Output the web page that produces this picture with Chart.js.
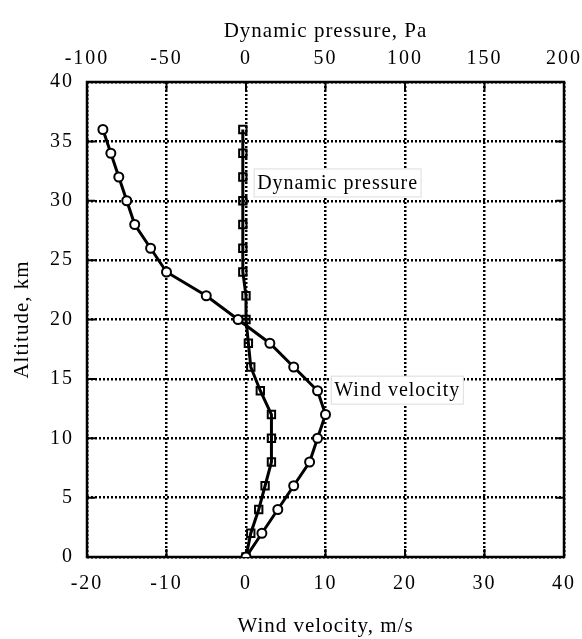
<!DOCTYPE html>
<html>
<head>
<meta charset="utf-8">
<script src="https://cdn.jsdelivr.net/npm/chart.js@4.4.1/dist/chart.umd.min.js"></script>
<style>
  html, body { margin: 0; padding: 0; background: #fff; }
  #wrap { width: 582px; height: 639px; }
</style>
</head>
<body>
<div id="wrap"><canvas id="chart" width="582" height="639"></canvas></div>
<script>
// altitude (km) where both profiles were sampled
const altitude = [0, 2, 4, 6, 8, 10, 12, 14, 16, 18, 20, 22, 24, 26, 28, 30, 32, 34, 36];
// wind velocity, m/s (bottom axis)
const windVelocity = [0, 2, 4, 6, 8, 9, 10, 9, 6, 3, -1, -5, -10, -12, -14, -15, -16, -17, -18];
// dynamic pressure, Pa (top axis)
const dynamicPressure = [0, 3, 8, 12, 16, 16, 16, 9, 3, 1.5, 0, 0, -2, -2, -2, -2, -2, -2, -2];

const windTicks = [-20, -10, 0, 10, 20, 30, 40];
const pressureTicks = [-100, -50, 0, 50, 100, 150, 200];
const altitudeTicks = [0, 5, 10, 15, 20, 25, 30, 35, 40];

// curve names written inside the plot, anchored in (wind, altitude) units
const curveNames = ['Dynamic pressure', 'Wind velocity'];
const curveNameWind = [1.4, 11.1];
const curveNameAlt = [31.5, 14.05];

const serif = '"Liberation Serif", "Times New Roman", serif';

function toPoints(xs) {
    return altitude.map((a, i) => ({ x: xs[i], y: a }));
}

function useTicks(list) {
    return function (scale) {
        scale.ticks = list.map(v => ({ value: v }));
    };
}

// frame, inward tick marks and the curve labels
const decorations = {
    id: 'decorations',
    beforeDraw(chart) {
        chart.ctx.letterSpacing = '1px';
    },
    beforeDatasetsDraw(chart) {
        const { ctx, chartArea: a, scales } = chart;
        ctx.save();
        ctx.strokeStyle = '#000';
        ctx.lineWidth = 2;
        ctx.beginPath();
        const len = 8;
        windTicks.forEach(v => {
            const px = scales.x.getPixelForValue(v);
            ctx.moveTo(px, a.bottom); ctx.lineTo(px, a.bottom - len);
        });
        pressureTicks.forEach(v => {
            const px = scales.x2.getPixelForValue(v);
            ctx.moveTo(px, a.top); ctx.lineTo(px, a.top + len);
        });
        altitudeTicks.forEach(v => {
            const py = scales.y.getPixelForValue(v);
            ctx.moveTo(a.left, py); ctx.lineTo(a.left + len, py);
            ctx.moveTo(a.right, py); ctx.lineTo(a.right - len, py);
        });
        ctx.stroke();
        ctx.lineWidth = 2.5;
        ctx.strokeRect(a.left, a.top, a.right - a.left, a.bottom - a.top);
        ctx.restore();
    },
    afterDatasetsDraw(chart) {
        const { ctx, scales } = chart;
        ctx.save();
        ctx.font = '20px ' + serif;
        ctx.letterSpacing = '1px';
        ctx.textBaseline = 'middle';
        ctx.textAlign = 'left';
        curveNames.forEach((name, i) => {
            const px = scales.x.getPixelForValue(curveNameWind[i]);
            const py = scales.y.getPixelForValue(curveNameAlt[i]);
            const w = ctx.measureText(name).width;
            ctx.fillStyle = '#fff';
            ctx.fillRect(px - 3, py - 14, w + 6, 28);
            ctx.strokeStyle = '#ddd';
            ctx.lineWidth = 1;
            ctx.strokeRect(px - 3, py - 14, w + 6, 28);
            ctx.fillStyle = '#000';
            ctx.fillText(name, px, py + 1);
        });
        ctx.restore();
        // tick labels are drawn after this (ticks.z = 1)
        ctx.letterSpacing = '2px';
    },
    afterDraw(chart) {
        chart.ctx.letterSpacing = '0px';
    }
};

const tickFont = { family: serif, size: 20 };
const titleFont = { family: serif, size: 21 };

function fixHeight(h) {
    return function (scale) {
        scale.height = h;
        scale.paddingLeft = 0;
        scale.paddingRight = 0;
    };
}

const ctx = document.getElementById('chart').getContext('2d');
new Chart(ctx, {
    type: 'scatter',
    data: {
        datasets: [
            {
                label: 'Wind velocity',
                data: toPoints(windVelocity),
                xAxisID: 'x',
                showLine: true,
                borderColor: '#000',
                borderWidth: 3,
                pointStyle: 'circle',
                pointRadius: 4.5,
                pointBorderWidth: 2,
                pointBorderColor: '#000',
                pointBackgroundColor: '#fff'
            },
            {
                label: 'Dynamic pressure',
                data: toPoints(dynamicPressure),
                xAxisID: 'x2',
                showLine: true,
                borderColor: '#000',
                borderWidth: 3,
                pointStyle: 'rect',
                pointRadius: 5.2,
                pointBorderWidth: 2,
                pointBorderColor: '#000',
                pointBackgroundColor: 'rgba(0,0,0,0)'
            }
        ]
    },
    options: {
        responsive: false,
        animation: false,
        devicePixelRatio: 1,
        layout: { padding: { left: 0, right: 18, top: 0, bottom: 0 } },
        plugins: {
            legend: { display: false },
            tooltip: { enabled: false }
        },
        scales: {
            x: {
                type: 'linear',
                position: 'bottom',
                min: windTicks[0],
                max: windTicks[windTicks.length - 1],
                afterBuildTicks: useTicks(windTicks),
                afterFit: fixHeight(82),
                ticks: { font: tickFont, color: '#000', padding: 15, z: 1 },
                grid: { color: '#000', lineWidth: 2.5, drawTicks: false },
                border: { display: false, dash: [2, 2] },
                title: { display: true, text: 'Wind velocity, m/s', font: titleFont, color: '#000', padding: 0 }
            },
            x2: {
                type: 'linear',
                position: 'top',
                min: pressureTicks[0],
                max: pressureTicks[pressureTicks.length - 1],
                afterBuildTicks: useTicks(pressureTicks),
                afterFit: fixHeight(82),
                ticks: { font: tickFont, color: '#000', padding: 11, z: 1 },
                grid: { drawOnChartArea: false, drawTicks: false },
                border: { display: false },
                title: { display: true, text: 'Dynamic pressure, Pa', font: titleFont, color: '#000', padding: { top: 19, bottom: 0 } }
            },
            y: {
                type: 'linear',
                position: 'left',
                min: altitudeTicks[0],
                max: altitudeTicks[altitudeTicks.length - 1],
                afterBuildTicks: useTicks(altitudeTicks),
                afterFit(scale) { scale.width = 87; scale.paddingTop = 0; scale.paddingBottom = 0; },
                ticks: { font: tickFont, color: '#000', padding: 13, z: 1 },
                grid: { color: '#000', lineWidth: 2.5, drawTicks: false },
                border: { display: false, dash: [2, 2] },
                title: { display: true, text: 'Altitude, km', font: titleFont, color: '#000', padding: { top: 10, bottom: 0 } }
            }
        }
    },
    plugins: [decorations]
});
</script>
</body>
</html>
